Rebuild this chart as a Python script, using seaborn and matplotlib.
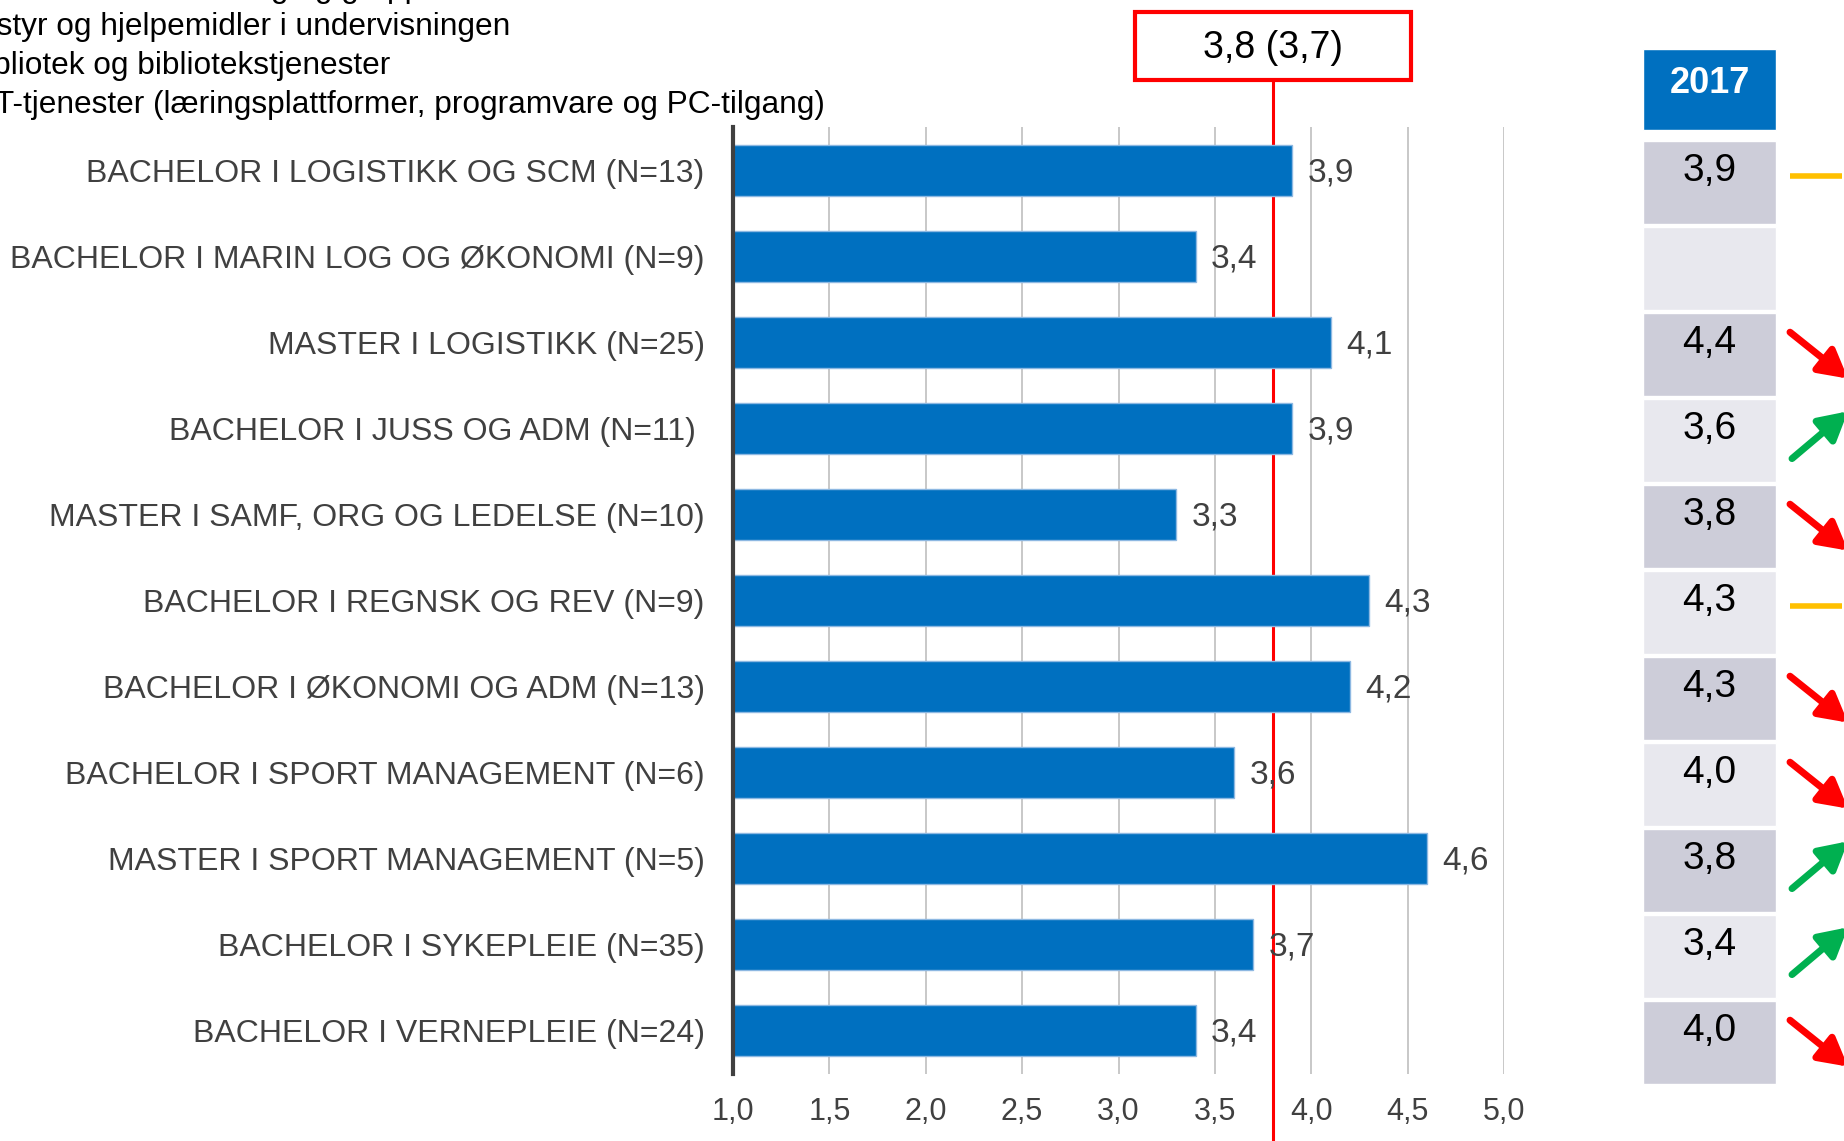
import matplotlib
matplotlib.use("Agg")
import matplotlib.pyplot as plt
import matplotlib.transforms as mtransforms
from matplotlib.patches import Rectangle
import seaborn as sns

# -----------------------------
# Data
# -----------------------------
programs = [
    "BACHELOR I LOGISTIKK OG SCM (N=13)",
    "BACHELOR I MARIN LOG OG ØKONOMI (N=9)",
    "MASTER I LOGISTIKK (N=25)",
    "BACHELOR I JUSS OG ADM (N=11) ",
    "MASTER I SAMF, ORG OG LEDELSE (N=10)",
    "BACHELOR I REGNSK OG REV (N=9)",
    "BACHELOR I ØKONOMI OG ADM (N=13)",
    "BACHELOR I SPORT MANAGEMENT (N=6)",
    "MASTER I SPORT MANAGEMENT (N=5)",
    "BACHELOR I SYKEPLEIE (N=35)",
    "BACHELOR I VERNEPLEIE (N=24)",
]
scores_2018 = [3.9, 3.4, 4.1, 3.9, 3.3, 4.3, 4.2, 3.6, 4.6, 3.7, 3.4]
scores_2017 = [3.9, None, 4.4, 3.6, 3.8, 4.3, 4.3, 4.0, 3.8, 3.4, 4.0]
overall_now = 3.8
overall_prev = 3.7
x_ticks = [1.0, 1.5, 2.0, 2.5, 3.0, 3.5, 4.0, 4.5, 5.0]
prev_year = "2017"
header_lines = [
    "Lokaler til undervisning og gruppearbeid",
    "Utstyr og hjelpemidler i undervisningen",
    "Bibliotek og bibliotekstjenester",
    "IKT-tjenester (læringsplattformer, programvare og PC-tilgang)",
]


def fmt(v):
    return f"{v:.1f}".replace(".", ",")


# -----------------------------
# Style
# -----------------------------
sns.set_theme(style="white")
plt.rcParams["font.family"] = ["Liberation Sans", "DejaVu Sans"]

BLUE = "#0070C0"
GREY_TXT = "#404040"
W, H = 1844, 1141

fig = plt.figure(figsize=(W / 100, H / 100), dpi=100)
fig.patch.set_facecolor("white")

# main bar axes (pixel-based placement)
top_px, bot_px = 127.5, 1073.5
ax = fig.add_axes([733 / W, 1 - bot_px / H, (1504 - 733) / W, (bot_px - top_px) / H])

sns.barplot(x=scores_2018, y=programs, orient="h", color=BLUE, saturation=1,
            width=0.59, edgecolor="#8DB8E2", linewidth=1, ax=ax, zorder=3)

ax.set_xlim(1, 5)
ax.set_ylim(len(programs) - 0.5, -0.5)
ax.set_xticks(x_ticks)
ax.set_xticklabels([fmt(t) for t in x_ticks])
ax.set_xlabel("")
ax.set_ylabel("")
ax.tick_params(axis="x", length=0, pad=17, labelsize=22, labelcolor=GREY_TXT)
ax.tick_params(axis="y", length=0, pad=20.5, labelsize=23, labelcolor=GREY_TXT)
ax.xaxis.grid(True, color="#c8c8c8", linewidth=1.4)
ax.yaxis.grid(False)
ax.set_axisbelow(True)
for s in ["top", "right", "bottom"]:
    ax.spines[s].set_visible(False)
ax.spines["left"].set_color(GREY_TXT)
ax.spines["left"].set_linewidth(3)
ax.spines["left"].set_zorder(4)

# value labels
for i, v in enumerate(scores_2018):
    ax.annotate(fmt(v), xy=(v, i), xytext=(11, -2), textcoords="offset points",
                ha="left", va="center", fontsize=24, color=GREY_TXT, zorder=5)

# overall average line + box
ax.axvline(overall_now, ymin=-0.08, ymax=(bot_px - 80) / (bot_px - top_px),
           color="red", linewidth=2.2, clip_on=False, zorder=2)
blend = mtransforms.blended_transform_factory(ax.transData, fig.transFigure)
box_w = 1.432
ax.add_patch(Rectangle((overall_now - box_w / 2, 1 - 80 / H), box_w, 68 / H,
                       transform=blend, facecolor="white", edgecolor="red",
                       linewidth=3, clip_on=False, zorder=6))
ax.text(overall_now, 1 - 48 / H, f"{fmt(overall_now)} ({fmt(overall_prev)})",
        transform=blend, ha="center", va="center", fontsize=27, color="black",
        zorder=7)

# header text lines (clipped on the left like the original slide)
for k, line in enumerate(header_lines):
    fig.text(-35 / W, 1 - (-11 + 38.5 * k) / H, line, ha="left", va="center",
             fontsize=22.8, color="black")

# -----------------------------
# 2017 column with trend arrows
# -----------------------------
row0, pitch = 170.5, 86.0
tab = fig.add_axes([1643 / W, 0, (W - 1643) / W, 1])
tab.set_xlim(0, W - 1643)
tab.set_ylim((H - row0) / pitch, -row0 / pitch)
tab.axis("off")

rows = list(range(len(programs)))
cell_colors = ["#CDCDD9" if r % 2 == 0 else "#E8E8EE" for r in rows]
tab.barh([r + 0.14 for r in rows], 133, left=0, height=0.96, color=cell_colors)
tab.barh([-0.942], 133, left=0, height=0.942, color=BLUE)
tab.text(66.5, -1.01, prev_year, ha="center", va="center", fontsize=26,
         fontweight="bold", color="white")

for r, (now, prev) in enumerate(zip(scores_2018, scores_2017)):
    if prev is None:
        continue
    tab.text(66.5, r, fmt(prev), ha="center", va="center", fontsize=28,
             color="black")
    if abs(now - prev) < 1e-9:
        tab.plot([147, 199], [r + 0.06, r + 0.06], color="#FFC000",
                 linewidth=4, solid_capstyle="butt")
    else:
        if now > prev:
            start, end, col = (149, r + 0.35), (205, r - 0.2), "#00B050"
        else:
            start, end, col = (147, r - 0.12), (205, r + 0.42), "red"
        tab.annotate("", xy=end, xytext=start, annotation_clip=False,
                     arrowprops=dict(arrowstyle="-|>,head_length=1.0,head_width=0.55",
                                     color=col, lw=5, mutation_scale=17,
                                     shrinkA=0, shrinkB=0))

fig.savefig("out.png", dpi=100, facecolor="white")
